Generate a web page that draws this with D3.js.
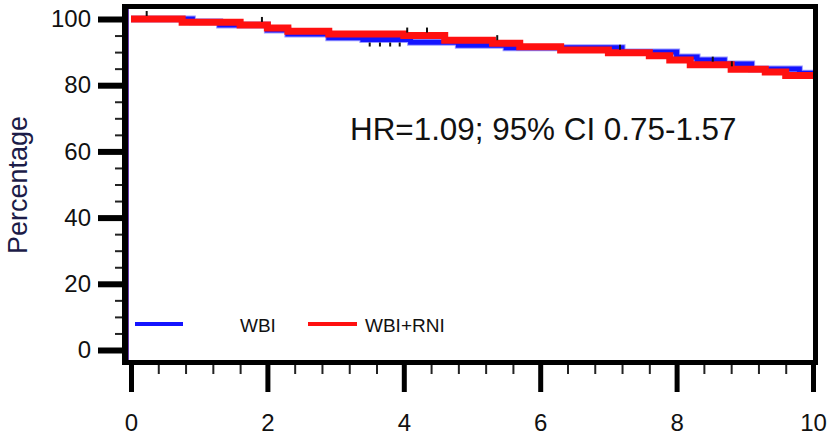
<!DOCTYPE html>
<html>
<head>
<meta charset="utf-8">
<script src="https://cdn.jsdelivr.net/npm/d3@7"></script>
<style>
  html, body { margin: 0; padding: 0; background: #fff; }
  svg { display: block; }
  text { font-family: "Liberation Sans", Arial, sans-serif; }
</style>
</head>
<body>
<svg id="chart" width="827" height="440"></svg>
<script>
// Kaplan-Meier step curves, time in years, survival in percent
const timeTicks = [0, 2, 4, 6, 8, 10];
const pctTicks = [0, 20, 40, 60, 80, 100];

const wbiTimes = [0, 0.9, 1.3, 2.0, 2.3, 2.9, 3.4, 4.1, 4.8, 5.5, 7.2, 8.0, 8.3, 8.7, 9.1, 9.8, 10];
const wbiSurv  = [100, 99.2, 98.2, 96.7, 95.5, 94.3, 93.8, 93.0, 92.1, 91.3, 90.0, 88.5, 87.6, 86.4, 84.9, 83.6, 83.6];

const rniTimes = [0, 0.75, 1.6, 2.0, 2.3, 2.9, 4.0, 4.6, 5.3, 5.7, 6.3, 7.0, 7.6, 7.9, 8.2, 8.8, 9.3, 9.6, 10];
const rniSurv  = [100, 99.0, 98.2, 97.3, 96.3, 95.5, 95.0, 93.6, 92.7, 91.6, 90.6, 89.8, 88.9, 87.6, 86.2, 84.8, 84.0, 82.9, 82.9];

// censoring marks
const wbiCensor = [3.5, 3.65, 3.8, 3.94];
const rniCensor = [0.23, 1.92, 4.05, 4.34, 5.37, 7.17, 8.53, 8.81];

const seriesNames = ["WBI", "WBI+RNI"];
const seriesColors = ["#1414ff", "#ff1010"];
const hrLabel = "HR=1.09; 95% CI 0.75-1.57";
const yTitle = "Percentage";

const svg = d3.select("#chart");

const x = d3.scaleLinear().domain([0, 10]).range([131, 813]);
const y = d3.scaleLinear().domain([0, 100]).range([350, 19]);

// frame
const frame = svg.append("g");
frame.append("rect").attr("x", 122).attr("y", 4).attr("width", 6).attr("height", 361).attr("fill", "#000");
frame.append("rect").attr("x", 122).attr("y", 4).attr("width", 696).attr("height", 5).attr("fill", "#000");
frame.append("rect").attr("x", 122).attr("y", 360).attr("width", 696).attr("height", 5).attr("fill", "#000");
frame.append("rect").attr("x", 813).attr("y", 4).attr("width", 5).attr("height", 361).attr("fill", "#000");
frame.append("line").attr("x1", 128.5).attr("x2", 128.5).attr("y1", 9).attr("y2", 360)
  .attr("stroke", "#6a3ab0").attr("stroke-width", 1);

// y axis: major and minor ticks
const yMinor = d3.range(5, 100, 5).filter(v => v % 20 !== 0);
const yAxisMinor = svg.append("g").attr("transform", "translate(122,0)")
  .call(d3.axisLeft(y).tickValues(yMinor).tickSize(7).tickFormat(""));
yAxisMinor.select(".domain").remove();
yAxisMinor.selectAll(".tick line").attr("stroke", "#222").attr("stroke-width", 2);

const yAxis = svg.append("g").attr("transform", "translate(122,0)")
  .call(d3.axisLeft(y).tickValues(pctTicks).tickSize(24).tickPadding(7));
yAxis.select(".domain").remove();
yAxis.selectAll(".tick line").attr("stroke", "#000").attr("stroke-width", 6);
yAxis.selectAll(".tick text").attr("font-size", 24).attr("fill", "#111")
  .attr("font-family", "Liberation Sans, Arial, sans-serif");

// x axis: major and minor ticks
const xMinor = d3.range(0.4, 10, 0.4).filter(v => Math.abs(v / 2 - Math.round(v / 2)) > 1e-6);
const xAxisMinor = svg.append("g").attr("transform", "translate(0,365)")
  .call(d3.axisBottom(x).tickValues(xMinor).tickSize(9).tickFormat(""));
xAxisMinor.select(".domain").remove();
xAxisMinor.selectAll(".tick line").attr("stroke", "#222").attr("stroke-width", 2);

const xAxis = svg.append("g").attr("transform", "translate(0,365)")
  .call(d3.axisBottom(x).tickValues(timeTicks).tickSize(27).tickPadding(22));
xAxis.select(".domain").remove();
xAxis.selectAll(".tick line").attr("stroke", "#000").attr("stroke-width", 5);
xAxis.selectAll(".tick text").attr("font-size", 24).attr("fill", "#111")
  .attr("font-family", "Liberation Sans, Arial, sans-serif");

// y title
svg.append("text")
  .attr("transform", "translate(27,185) rotate(-90)")
  .attr("text-anchor", "middle")
  .attr("font-size", 27)
  .attr("fill", "#1c1c48")
  .text(yTitle);

// step curves
const stepLine = d3.line()
  .x(d => x(d[0]))
  .y(d => y(d[1]))
  .curve(d3.curveStepAfter);

const wbiData = wbiTimes.map((t, i) => [t, wbiSurv[i]]);
const rniData = rniTimes.map((t, i) => [t, rniSurv[i]]);

function survAt(times, surv, t) {
  let v = surv[0];
  for (let i = 0; i < times.length; i++) if (times[i] <= t) v = surv[i];
  return v;
}

svg.append("path").datum(wbiData).attr("d", stepLine)
  .attr("fill", "none").attr("stroke", "#9a9aff").attr("stroke-width", 7);
svg.append("path").datum(wbiData).attr("d", stepLine)
  .attr("fill", "none").attr("stroke", seriesColors[0]).attr("stroke-width", 5);
svg.append("path").datum(rniData).attr("d", stepLine)
  .attr("fill", "none").attr("stroke", seriesColors[1]).attr("stroke-width", 7);

// censor ticks
svg.append("g").selectAll("line").data(wbiCensor).join("line")
  .attr("x1", d => x(d)).attr("x2", d => x(d))
  .attr("y1", d => y(survAt(wbiTimes, wbiSurv, d)) + 3)
  .attr("y2", d => y(survAt(wbiTimes, wbiSurv, d)) + 7)
  .attr("stroke", "#111").attr("stroke-width", 2);
svg.append("g").selectAll("line").data(rniCensor).join("line")
  .attr("x1", d => x(d)).attr("x2", d => x(d))
  .attr("y1", d => y(survAt(rniTimes, rniSurv, d)) - 8)
  .attr("y2", d => y(survAt(rniTimes, rniSurv, d)) - 3)
  .attr("stroke", "#111").attr("stroke-width", 2);

// hazard ratio annotation
svg.append("text")
  .attr("x", 350).attr("y", 140)
  .attr("font-size", 31.4)
  .attr("fill", "#111")
  .text(hrLabel);

// legend
const legendItems = [
  { name: seriesNames[0], color: seriesColors[0], x1: 135, x2: 183, tx: 240 },
  { name: seriesNames[1], color: seriesColors[1], x1: 308, x2: 357, tx: 365 }
];
const legend = svg.append("g");
legend.selectAll("line").data(legendItems).join("line")
  .attr("x1", d => d.x1).attr("x2", d => d.x2)
  .attr("y1", 324).attr("y2", 324)
  .attr("stroke", d => d.color).attr("stroke-width", 4);
legend.selectAll("text").data(legendItems).join("text")
  .attr("x", d => d.tx).attr("y", 332)
  .attr("font-size", 19)
  .attr("fill", "#111")
  .text(d => d.name);
</script>
</body>
</html>
